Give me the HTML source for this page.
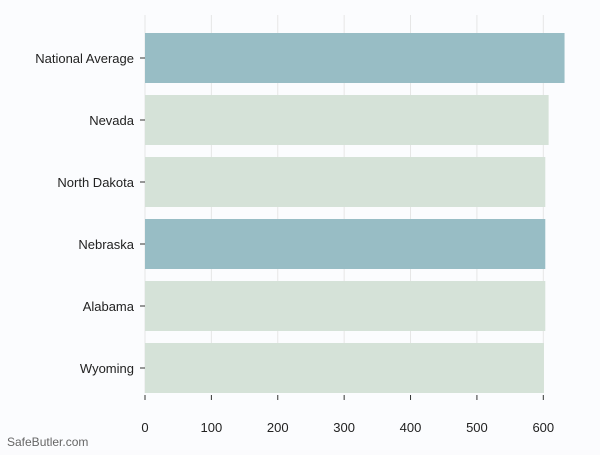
<!DOCTYPE html>
<html><head><meta charset="utf-8"><style>
body{margin:0;background:#fbfbfd;font-family:"Liberation Sans","DejaVu Sans",sans-serif;}
</style></head><body>
<svg id="chart" width="600" height="450" xmlns="http://www.w3.org/2000/svg">
<rect width="600" height="450" fill="#fbfcfe"/>
<g id="grid"></g><g id="bars"></g><g id="labels"></g><g id="ticks"></g>
<text x="7" y="446" font-size="12" fill="#666">SafeButler.com</text>
</svg>
<script>
const categories=["National Average","Nevada","North Dakota","Nebraska","Alabama","Wyoming"];
const values=[632,608,603,603,603,601];
const highlight=[true,false,false,true,false,false];
const tickValues=[0,100,200,300,400,500,600];
const NS="http://www.w3.org/2000/svg";
const x0=145,scale=(543.3-145)/600;
const xs=v=>x0+v*scale;
const ys=i=>33+i*62;
function mk(t,a,p){const e=document.createElementNS(NS,t);for(const k in a)e.setAttribute(k,a[k]);document.getElementById(p).appendChild(e);return e;}
tickValues.forEach(v=>{
  const g=mk('line',{x1:xs(v),x2:xs(v),y1:15,y2:393,stroke:'#e6e6e6','stroke-width':1},'grid');
  
  
  const tk=mk('line',{x1:xs(v),x2:xs(v),y1:395,y2:400,stroke:'#333','stroke-width':1},'ticks');
  
  
  const t=mk('text',{x:xs(v),y:432,'text-anchor':'middle','font-size':13,fill:'#222'},'ticks');
  t.textContent=v;
  
  
});
categories.forEach((c,i)=>{
  const r=mk('rect',{x:x0,y:ys(i),width:xs(values[i])-x0,height:50,fill:highlight[i]?'#98bdc5':'#d5e2d8'},'bars');
  
  
  const tk=mk('line',{x1:140,x2:145,y1:ys(i)+25,y2:ys(i)+25,stroke:'#333'},'labels');
  
  
  const t=mk('text',{x:134,y:ys(i)+30,'text-anchor':'end','font-size':13,fill:'#222'},'labels');
  t.textContent=c;
  
  
});
</script>
</body></html>
